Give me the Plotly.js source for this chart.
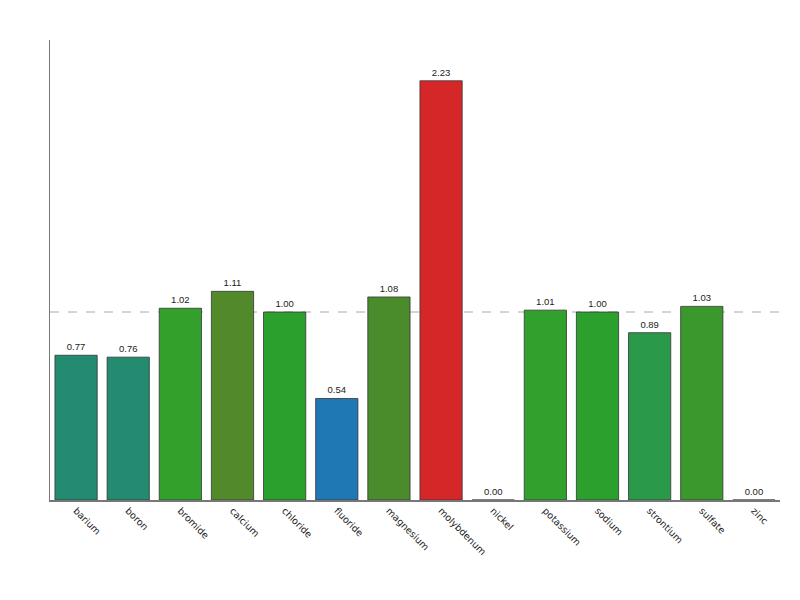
<!DOCTYPE html>
<html>
<head>
<meta charset="utf-8">
<script src="https://cdn.plot.ly/plotly-3.0.1.min.js"></script>
<style>html,body{margin:0;padding:0;background:#fff;}#chart{width:800px;height:600px;}</style>
</head>
<body>
<div id="chart"></div>
<script>
const categories = ["barium","boron","bromide","calcium","chloride","fluoride","magnesium","molybdenum","nickel","potassium","sodium","strontium","sulfate","zinc"];
const values = [0.77,0.76,1.02,1.11,1.00,0.54,1.08,2.23,0.00,1.01,1.00,0.89,1.03,0.00];
const barColors = ["#238b6f","#238b6f","#33a02c","#52892b","#2ca02c","#1f77b4","#4a8b2c","#d62728","#555555","#31a02c","#2ca02c","#2a9a4a","#3a982c","#555555"];
const labels = values.map(v => v.toFixed(2));
const refLevel = 1;

const trace = {
  type: "bar",
  x: categories,
  y: values,
  text: labels,
  textposition: "outside",
  cliponaxis: false,
  textfont: {family: "Liberation Sans, Arial, sans-serif", size: 9.5, color: "#222"},
  marker: {color: barColors, line: {color: "#333333", width: 0.8}},
  hoverinfo: "x+y"
};

const layout = {
  width: 800, height: 600,
  margin: {l: 50, r: 20, t: 40, b: 100},
  paper_bgcolor: "#fff", plot_bgcolor: "#fff",
  showlegend: false,
  bargap: 0.19,
  xaxis: {
    showline: true, linecolor: "#777", linewidth: 1.5,
    showgrid: false, zeroline: false, ticks: "",
    tickangle: 45,
    tickfont: {family: "DejaVu Sans, sans-serif", size: 9.5, color: "#222"}
  },
  yaxis: {
    range: [0, 2.447],
    showline: true, linecolor: "#777", linewidth: 1.5,
    showgrid: false, zeroline: false, showticklabels: false, ticks: ""
  },
  shapes: [{
    type: "line", xref: "paper", x0: 0, x1: 1, yref: "y", y0: refLevel, y1: refLevel,
    line: {color: "#aaa", width: 1, dash: "dash"}, layer: "below"
  }]
};

Plotly.newPlot("chart", [trace], layout, {displayModeBar: false, staticPlot: true});
</script>
</body>
</html>
